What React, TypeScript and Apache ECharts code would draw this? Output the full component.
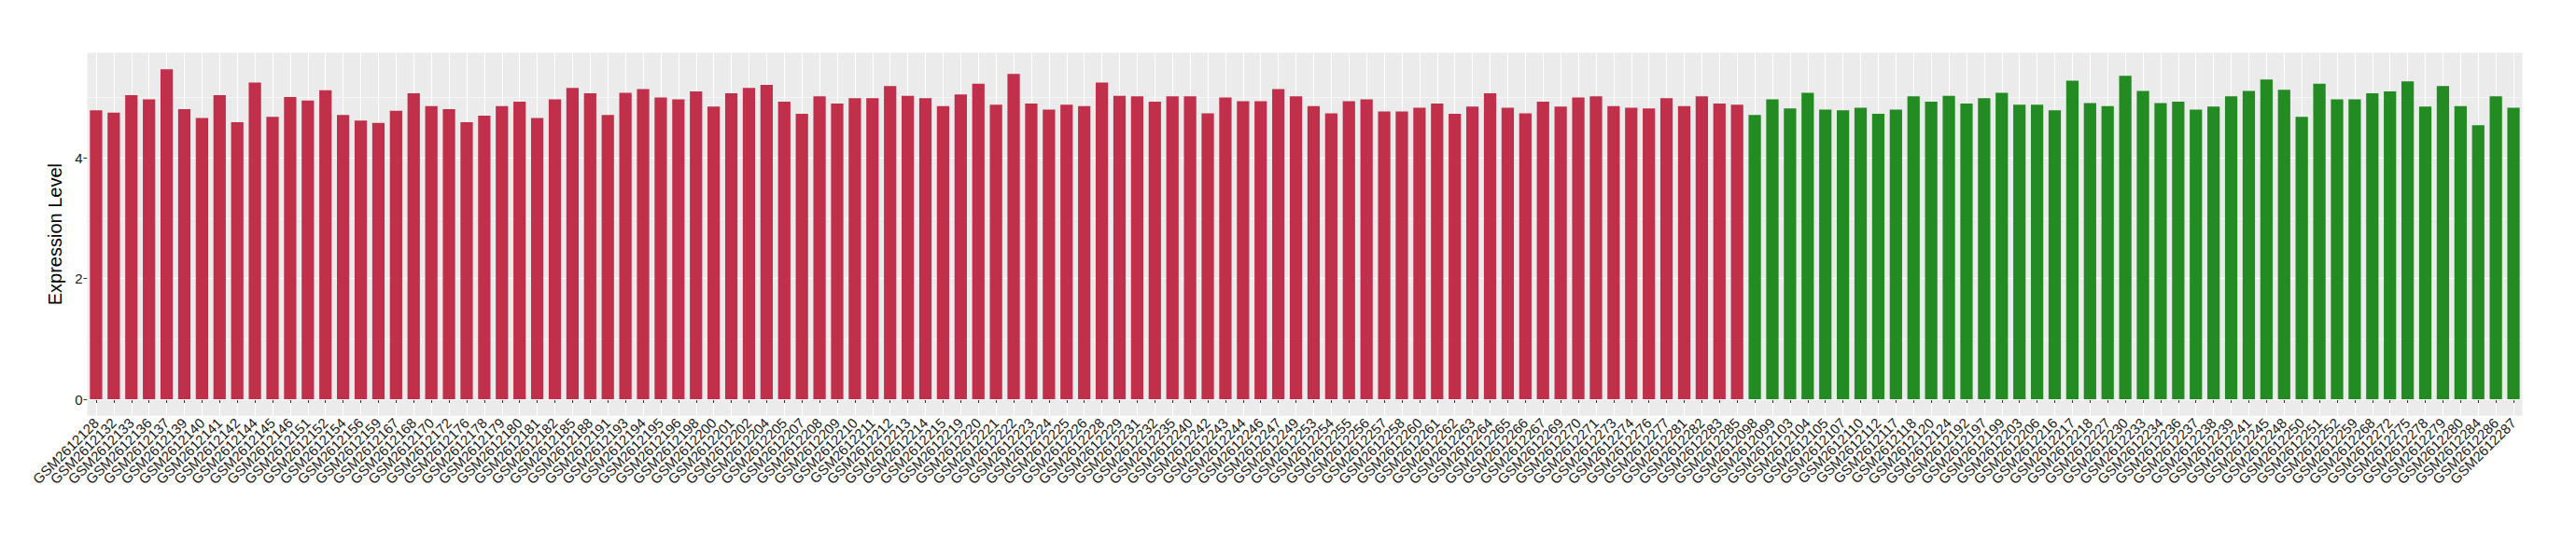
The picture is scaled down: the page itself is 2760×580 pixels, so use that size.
import React, { useEffect, useRef } from "react";
import * as echarts from "echarts";

const redSamples: string[] = [
  "GSM2612128", "GSM2612132", "GSM2612133", "GSM2612136", "GSM2612137", "GSM2612139", "GSM2612140", "GSM2612141",
  "GSM2612142", "GSM2612144", "GSM2612145", "GSM2612146", "GSM2612151", "GSM2612152", "GSM2612154", "GSM2612156",
  "GSM2612159", "GSM2612167", "GSM2612168", "GSM2612170", "GSM2612172", "GSM2612176", "GSM2612178", "GSM2612179",
  "GSM2612180", "GSM2612181", "GSM2612182", "GSM2612185", "GSM2612188", "GSM2612191", "GSM2612193", "GSM2612194",
  "GSM2612195", "GSM2612196", "GSM2612198", "GSM2612200", "GSM2612201", "GSM2612202", "GSM2612204", "GSM2612205",
  "GSM2612207", "GSM2612208", "GSM2612209", "GSM2612210", "GSM2612211", "GSM2612212", "GSM2612213", "GSM2612214",
  "GSM2612215", "GSM2612219", "GSM2612220", "GSM2612221", "GSM2612222", "GSM2612223", "GSM2612224", "GSM2612225",
  "GSM2612226", "GSM2612228", "GSM2612229", "GSM2612231", "GSM2612232", "GSM2612235", "GSM2612240", "GSM2612242",
  "GSM2612243", "GSM2612244", "GSM2612246", "GSM2612247", "GSM2612249", "GSM2612253", "GSM2612254", "GSM2612255",
  "GSM2612256", "GSM2612257", "GSM2612258", "GSM2612260", "GSM2612261", "GSM2612262", "GSM2612263", "GSM2612264",
  "GSM2612265", "GSM2612266", "GSM2612267", "GSM2612269", "GSM2612270", "GSM2612271", "GSM2612273", "GSM2612274",
  "GSM2612276", "GSM2612277", "GSM2612281", "GSM2612282", "GSM2612283", "GSM2612285",
];

const redValues: number[] = [
  4.79, 4.75, 5.04, 4.97, 5.47, 4.81, 4.66, 5.04, 4.59, 5.25, 4.68, 5.01, 4.95, 5.12, 4.71, 4.62,
  4.58, 4.78, 5.07, 4.86, 4.81, 4.59, 4.70, 4.86, 4.93, 4.66, 4.97, 5.16, 5.07, 4.71, 5.08, 5.14,
  5.00, 4.97, 5.10, 4.85, 5.07, 5.16, 5.21, 4.93, 4.73, 5.02, 4.90, 4.99, 4.99, 5.19, 5.03, 4.99,
  4.86, 5.05, 5.23, 4.88, 5.39, 4.90, 4.80, 4.88, 4.86, 5.25, 5.03, 5.02, 4.93, 5.02, 5.02, 4.74,
  5.00, 4.94, 4.94, 5.14, 5.02, 4.86, 4.74, 4.94, 4.97, 4.77, 4.77, 4.83, 4.90, 4.73, 4.85, 5.07,
  4.83, 4.74, 4.93, 4.85, 5.00, 5.02, 4.86, 4.83, 4.82, 4.99, 4.86, 5.02, 4.90, 4.88,
];

const greenSamples: string[] = [
  "GSM2612098", "GSM2612099", "GSM2612103", "GSM2612104", "GSM2612105", "GSM2612107", "GSM2612110", "GSM2612112",
  "GSM2612117", "GSM2612118", "GSM2612120", "GSM2612124", "GSM2612192", "GSM2612197", "GSM2612199", "GSM2612203",
  "GSM2612206", "GSM2612216", "GSM2612217", "GSM2612218", "GSM2612227", "GSM2612230", "GSM2612233", "GSM2612234",
  "GSM2612236", "GSM2612237", "GSM2612238", "GSM2612239", "GSM2612241", "GSM2612245", "GSM2612248", "GSM2612250",
  "GSM2612251", "GSM2612252", "GSM2612259", "GSM2612268", "GSM2612272", "GSM2612275", "GSM2612278", "GSM2612279",
  "GSM2612280", "GSM2612284", "GSM2612286", "GSM2612287",
];

const greenValues: number[] = [
  4.71, 4.97, 4.82, 5.08, 4.80, 4.79, 4.83, 4.73, 4.80, 5.02, 4.93, 5.03, 4.90, 4.99, 5.08, 4.88,
  4.88, 4.79, 5.28, 4.91, 4.86, 5.36, 5.11, 4.91, 4.93, 4.80, 4.85, 5.02, 5.11, 5.30, 5.13, 4.68,
  5.23, 4.97, 4.97, 5.07, 5.10, 5.27, 4.85, 5.19, 4.86, 4.54, 5.02, 4.83,
];

const yTickValues: number[] = [0, 2, 4];
const yGridValues: number[] = [0, 1, 2, 3, 4, 5];

const RED = "#C1304A";
const GREEN = "#228B22";

export default function App() {
  const ref = useRef<HTMLDivElement>(null);

  useEffect(() => {
    if (!ref.current) return;
    const chart = echarts.init(ref.current, undefined, { renderer: "svg" });

    const categories = [...redSamples, ...greenSamples];
    const data = [
      ...redValues.map((v) => ({ value: v, itemStyle: { color: RED } })),
      ...greenValues.map((v) => ({ value: v, itemStyle: { color: GREEN } })),
    ];
    const allValues = [...redValues, ...greenValues];
    const maxV = Math.max(...allValues);
    const pad = maxV * 0.05;

    chart.setOption({
      animation: false,
      grid: {
        left: 93.5,
        right: 57.5,
        top: 56.5,
        bottom: 134.3,
        show: true,
        backgroundColor: "#EBEBEB",
        borderWidth: 0,
      },
      xAxis: {
        type: "category",
        data: categories,
        axisLine: { show: false },
        axisTick: {
          show: true,
          alignWithLabel: true,
          interval: 0,
          length: 4,
          lineStyle: { color: "#333333", width: 1 },
        },
        axisLabel: {
          interval: 0,
          rotate: 45,
          fontSize: 15,
          fontFamily: "Liberation Sans, Arial, sans-serif",
          color: "#1A1A1A",
          margin: 5,
        },
        splitLine: {
          show: true,
          interval: 0,
          alignWithLabel: true,
          lineStyle: { color: "#FFFFFF", width: 1.1 },
        },
      },
      yAxis: {
        type: "value",
        min: -pad,
        max: maxV + pad,
        name: "Expression Level",
        nameLocation: "middle",
        nameGap: 17,
        nameTextStyle: {
          fontSize: 20,
          fontFamily: "Liberation Sans, Arial, sans-serif",
          color: "#000000",
        },
        axisLine: { show: false },
        axisTick: {
          show: true,
          length: 4,
          customValues: yTickValues,
          lineStyle: { color: "#333333", width: 1 },
        },
        axisLabel: {
          customValues: yTickValues,
          fontSize: 15,
          fontFamily: "Liberation Sans, Arial, sans-serif",
          color: "#1A1A1A",
          margin: 5,
          formatter: (v: number) => String(v),
        },
        splitLine: { show: false },
      },
      series: [
        {
          type: "bar",
          data,
          barWidth: "70%",
          z: 3,
          markLine: {
            z: 1,
            silent: true,
            symbol: ["none", "none"],
            label: { show: false },
            data: yGridValues.map((g) => ({
              yAxis: g,
              lineStyle: {
                color: "#FFFFFF",
                type: "solid",
                width: g % 2 === 0 ? 1.1 : 0.55,
              },
            })),
          },
        },
      ],
    });

    return () => chart.dispose();
  }, []);

  return (
    <div
      ref={ref}
      style={{ position: "absolute", left: 0, top: 0, width: 2760, height: 580 }}
    />
  );
}
